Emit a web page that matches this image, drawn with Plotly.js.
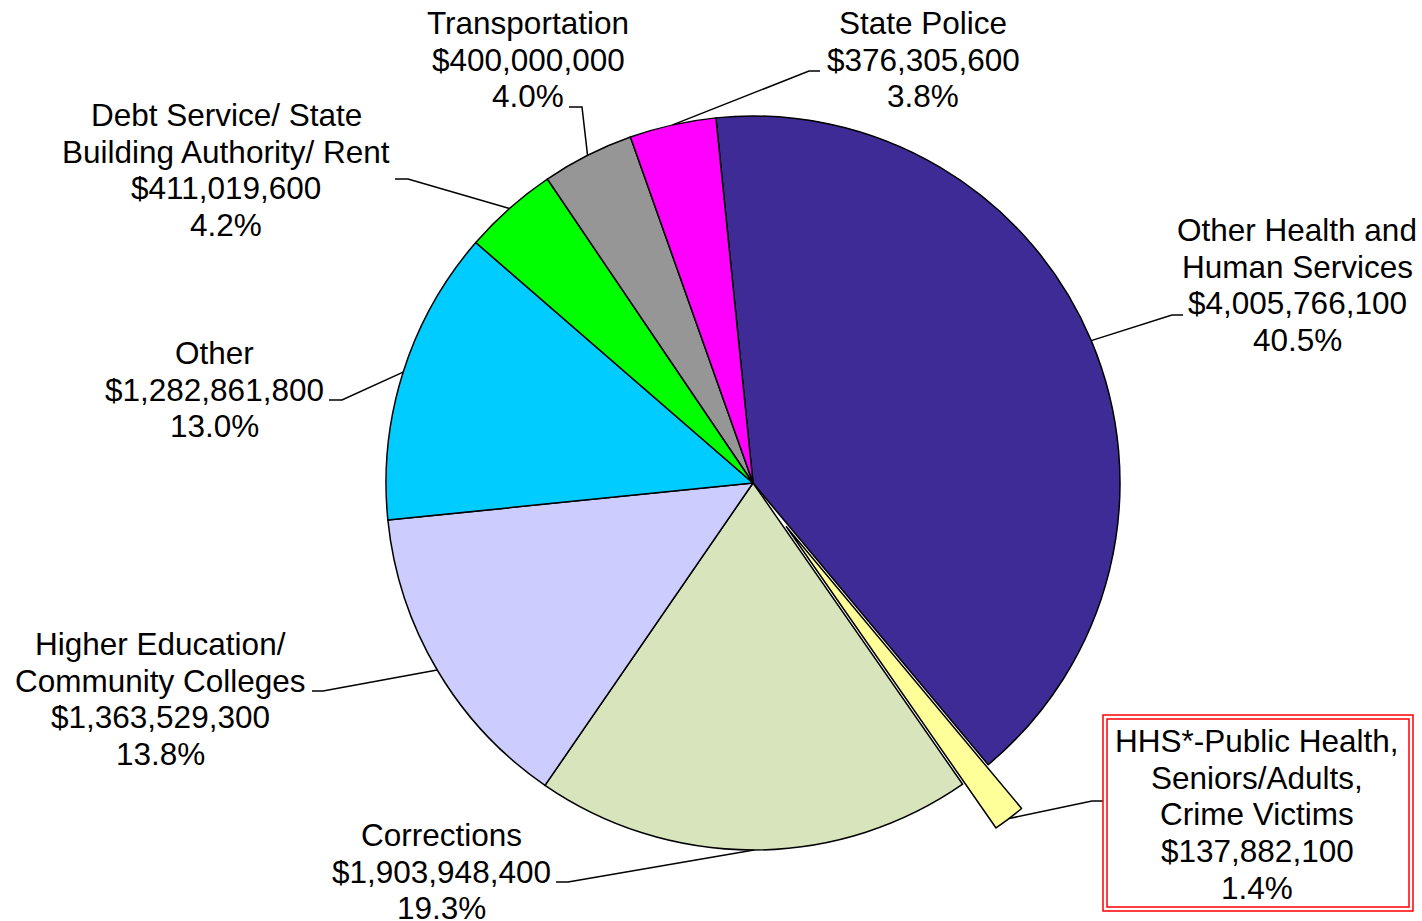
<!DOCTYPE html>
<html><head><meta charset="utf-8">
<script src="https://cdn.plot.ly/plotly-3.0.1.min.js"></script>
<style>html,body{margin:0;padding:0;background:#fff}#chart{width:1422px;height:921px}</style>
</head><body><div id="chart"></div>
<script>
// ---- data ----
const categories = ["Other Health and Human Services", "HHS*-Public Health, Seniors/Adults, Crime Victims", "Corrections", "Higher Education/ Community Colleges", "Other", "Debt Service/ State Building Authority/ Rent", "Transportation", "State Police"];
const labelLines = [["Other Health and", "Human Services"], ["HHS*-Public Health,", "Seniors/Adults,", "Crime Victims"], ["Corrections"], ["Higher Education/", "Community Colleges"], ["Other"], ["Debt Service/ State", "Building Authority/ Rent"], ["Transportation"], ["State Police"]];
const amounts = [4005766100, 137882100, 1903948400, 1363529300, 1282861800, 411019600, 400000000, 376305600];

// ---- styles / layout ----
const sliceColors = ["#3F2B96", "#FFFF99", "#D8E4BC", "#CCCCFF", "#00CCFF", "#00FF00", "#969696", "#FF00FF"];
const pulls = [0, 0.15, 0, 0, 0, 0, 0, 0];
const W = 1422, H = 921;
const CX = 753, CY = 483, R = 367, ROT = -5.8;
const LS = 36.7, FONT_SIZE = 31.5;
// label block centre x, first line centre y, leader elbow and end (pixels)
const labelPos = [
  {x: 1297, y: 230, elbow: [1172, 315], end: [1183, 315]},
  {x: 1257, y: 741, elbow: [1092, 801], end: [1103, 801]},
  {x: 441, y: 835, elbow: [568, 882], end: [556, 882]},
  {x: 160, y: 644, elbow: [323, 691], end: [312, 691]},
  {x: 214, y: 353, elbow: [342, 400], end: [329, 400]},
  {x: 226, y: 115, elbow: [408, 179], end: [395, 179]},
  {x: 528, y: 23, elbow: [582, 107], end: [569, 107]},
  {x: 923, y: 23, elbow: [809, 71], end: [820, 71]}
];

const px = v => v / W;
const py = v => 1 - v / H;
const fmtMoney = n => "$" + String(n).replace(/\B(?=(\d{3})+(?!\d))/g, ",");
const total = amounts.reduce((a, b) => a + b, 0);

const maxPull = Math.max(...pulls);
const half = R * (1 + maxPull);

const trace = {
  type: "pie",
  values: amounts,
  labels: categories,
  sort: false,
  direction: "clockwise",
  rotation: ROT,
  pull: pulls,
  textinfo: "none",
  hoverinfo: "label+value+percent",
  marker: {colors: sliceColors, line: {color: "#000000", width: 1.5}},
  domain: {x: [px(CX - half), px(CX + half)], y: [py(CY + half), py(CY - half)]},
  showlegend: false
};

const annotations = [];
const shapes = [];
let cum = 0;
amounts.forEach((v, i) => {
  const frac = v / total;
  const midDeg = ROT + (cum + frac / 2) * 360;
  cum += frac;
  const mid = midDeg * Math.PI / 180;
  const rr = R * (1 + pulls[i]);
  const sx = CX + rr * Math.sin(mid), sy = CY - rr * Math.cos(mid);
  const lp = labelPos[i];
  const lines = labelLines[i].concat([fmtMoney(v), (frac * 100).toFixed(1) + "%"]);
  lines.forEach((t, k) => {
    annotations.push({
      text: t, x: px(lp.x), y: py(lp.y + k * LS), xref: "paper", yref: "paper",
      xanchor: "center", yanchor: "middle", showarrow: false,
      font: {family: "Liberation Sans, Arial, sans-serif", size: FONT_SIZE, color: "#000000"}
    });
  });
  shapes.push({
    type: "path", xref: "paper", yref: "paper",
    path: `M ${px(sx)},${py(sy)} L ${px(lp.elbow[0])},${py(lp.elbow[1])} L ${px(lp.end[0])},${py(lp.end[1])}`,
    line: {color: "#000000", width: 1.5}
  });
});
// double red frame around the highlighted label
shapes.push({type: "rect", xref: "paper", yref: "paper", x0: px(1103), x1: px(1413), y0: py(911), y1: py(715), line: {color: "#FF0000", width: 1.5}});
shapes.push({type: "rect", xref: "paper", yref: "paper", x0: px(1107), x1: px(1409), y0: py(907), y1: py(719), line: {color: "#FF0000", width: 1.5}});

const layout = {
  width: W, height: H,
  margin: {l: 0, r: 0, t: 0, b: 0},
  paper_bgcolor: "#FFFFFF",
  showlegend: false,
  annotations: annotations,
  shapes: shapes
};
Plotly.newPlot("chart", [trace], layout, {displayModeBar: false, staticPlot: true});
</script>
</body></html>
